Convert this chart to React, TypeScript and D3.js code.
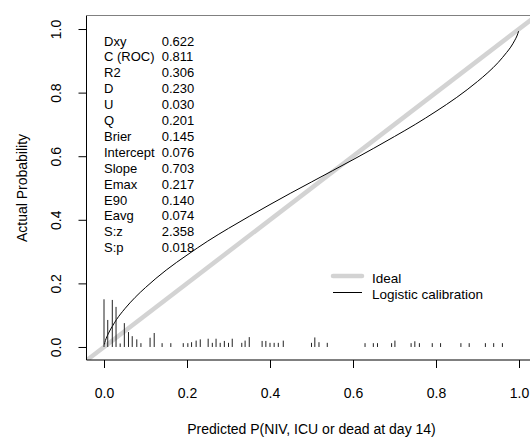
import * as d3 from 'd3';
import React, { useEffect, useRef } from 'react';

// logistic calibration curve
const calPred = [0.001, 0.002, 0.005, 0.01, 0.02, 0.03, 0.05, 0.075, 0.1, 0.15, 0.2, 0.25, 0.3, 0.35, 0.4, 0.45, 0.5, 0.55, 0.6, 0.65, 0.7, 0.75, 0.8, 0.85, 0.9, 0.925, 0.95, 0.97, 0.98, 0.99, 0.995, 0.999];
const calActual = [0.008, 0.014, 0.026, 0.041, 0.065, 0.086, 0.12, 0.156, 0.187, 0.242, 0.289, 0.333, 0.373, 0.411, 0.448, 0.484, 0.519, 0.554, 0.589, 0.625, 0.662, 0.7, 0.741, 0.785, 0.835, 0.863, 0.895, 0.926, 0.943, 0.965, 0.978, 0.993];

// spike histogram of predicted probabilities
const rugPred = [0.0, 0.009, 0.02, 0.029, 0.039, 0.049, 0.059, 0.068, 0.079, 0.089, 0.111, 0.121, 0.14, 0.161, 0.191, 0.202, 0.211, 0.222, 0.232, 0.251, 0.261, 0.27, 0.28, 0.29, 0.3, 0.309, 0.332, 0.34, 0.35, 0.381, 0.39, 0.4, 0.41, 0.42, 0.432, 0.5, 0.508, 0.518, 0.538, 0.629, 0.649, 0.659, 0.693, 0.701, 0.74, 0.749, 0.76, 0.791, 0.811, 0.86, 0.88, 0.919, 0.939, 0.96];
const rugFreq = [0.15, 0.085, 0.148, 0.126, 0.011, 0.075, 0.047, 0.034, 0.024, 0.012, 0.029, 0.044, 0.012, 0.012, 0.012, 0.012, 0.015, 0.02, 0.024, 0.026, 0.013, 0.026, 0.013, 0.019, 0.013, 0.026, 0.013, 0.02, 0.031, 0.019, 0.019, 0.013, 0.013, 0.013, 0.02, 0.013, 0.03, 0.015, 0.013, 0.012, 0.012, 0.012, 0.012, 0.02, 0.012, 0.018, 0.012, 0.012, 0.012, 0.012, 0.012, 0.012, 0.012, 0.012];

const statNames = ['Dxy', 'C (ROC)', 'R2', 'D', 'U', 'Q', 'Brier', 'Intercept', 'Slope', 'Emax', 'E90', 'Eavg', 'S:z', 'S:p'];
const statValues = ['0.622', '0.811', '0.306', '0.230', '0.030', '0.201', '0.145', '0.076', '0.703', '0.217', '0.140', '0.074', '2.358', '0.018'];

const ticks = [0, 0.2, 0.4, 0.6, 0.8, 1.0];
const lim = [-0.04, 1.04];
const legendLabels = ['Ideal', 'Logistic calibration'];

const font = '"Liberation Sans", Arial, sans-serif';

export default function App() {
  const axisBottomRef = useRef<SVGGElement>(null);
  const axisLeftRef = useRef<SVGGElement>(null);

  const width = 530;
  const height = 441;

  const scaleX = d3.scaleLinear().domain(lim).range([87.4, 535.6]);
  const scaleY = d3.scaleLinear().domain(lim).range([359.7, 16.3]);

  const left = 86.5;
  const top = 15.5;
  const bottom = 360;

  const line = d3
    .line<[number, number]>()
    .x((d) => scaleX(d[0]))
    .y((d) => scaleY(d[1]));

  const calPath = line.curve(d3.curveMonotoneX)(calPred.map((p, i) => [p, calActual[i]]));
  const idealPath = d3
    .line<[number, number]>()
    .x((d) => scaleX(d[0]))
    .y((d) => scaleY(d[1]))([
    [lim[0], lim[0]],
    [lim[1], lim[1]],
  ]);

  useEffect(() => {
    if (axisBottomRef.current) {
      const g = d3.select(axisBottomRef.current);
      g.call(d3.axisBottom(scaleX).tickValues(ticks).tickSize(8).tickFormat(d3.format('.1f')));
      g.select('.domain').remove();
      g.selectAll('line').attr('stroke', '#000');
      g.selectAll('text')
        .attr('y', 38)
        .attr('dy', '0')
        .attr('fill', '#000')
        .style('font-size', '14px')
        .style('font-family', font);
    }

    if (axisLeftRef.current) {
      const g = d3.select(axisLeftRef.current);
      g.call(d3.axisLeft(scaleY).tickValues(ticks).tickSize(8).tickFormat(d3.format('.1f')));
      g.select('.domain').remove();
      g.selectAll('line').attr('stroke', '#000');
      g.selectAll('text')
        .attr('x', 0)
        .attr('y', -26)
        .attr('dy', '0')
        .attr('text-anchor', 'middle')
        .attr('transform', 'rotate(-90)')
        .attr('fill', '#000')
        .style('font-size', '14px')
        .style('font-family', font);
    }
  }, [scaleX, scaleY]);

  return (
    <svg
      width={width}
      height={height}
      style={{ position: 'absolute', left: 0, top: 0, background: '#fff' }}
      fontFamily={font}
    >
      <defs>
        <clipPath id="plot-clip">
          <rect x={left} y={top} width={width - left} height={bottom - top} />
        </clipPath>
      </defs>

      <g clipPath="url(#plot-clip)">
        <path d={idealPath || ''} stroke="#d3d3d3" strokeWidth={4.5} fill="none" />
        <path d={calPath || ''} stroke="#000" strokeWidth={1} fill="none" />
      </g>

      {rugPred.map((p, i) => (
        <line
          key={`rug-${i}`}
          x1={scaleX(p)}
          x2={scaleX(p)}
          y1={scaleY(0)}
          y2={scaleY(rugFreq[i])}
          stroke="#222"
          strokeWidth={1}
        />
      ))}

      {/* frame */}
      <line x1={left} x2={left} y1={top} y2={bottom} stroke="#000" />
      <line x1={left} x2={width} y1={bottom} y2={bottom} stroke="#000" />
      <line x1={left} x2={width} y1={15.5} y2={15.5} stroke="#808080" />

      <g ref={axisBottomRef} transform={`translate(0, ${bottom})`} />
      <g ref={axisLeftRef} transform={`translate(${left}, 0)`} />

      <text x={311.5} y={434} textAnchor="middle" fontSize={14}>
        Predicted P(NIV, ICU or dead at day 14)
      </text>
      <text transform={`translate(27, ${scaleY(0.5)}) rotate(-90)`} textAnchor="middle" fontSize={14}>
        Actual Probability
      </text>

      {statNames.map((name, i) => (
        <g key={`stat-${i}`} fontSize={13}>
          <text x={scaleX(0)} y={45.5 + i * 15.9}>
            {name}
          </text>
          <text x={161.7} y={45.5 + i * 15.9}>
            {statValues[i]}
          </text>
        </g>
      ))}

      {/* legend */}
      <line x1={333} x2={362} y1={276} y2={276} stroke="#d3d3d3" strokeWidth={4.5} strokeLinecap="round" />
      <line x1={333} x2={362} y1={292.5} y2={292.5} stroke="#000" strokeWidth={1} />
      <text x={372} y={283} fontSize={13.5}>
        {legendLabels[0]}
      </text>
      <text x={372} y={298.5} fontSize={13.5}>
        {legendLabels[1]}
      </text>
    </svg>
  );
}
